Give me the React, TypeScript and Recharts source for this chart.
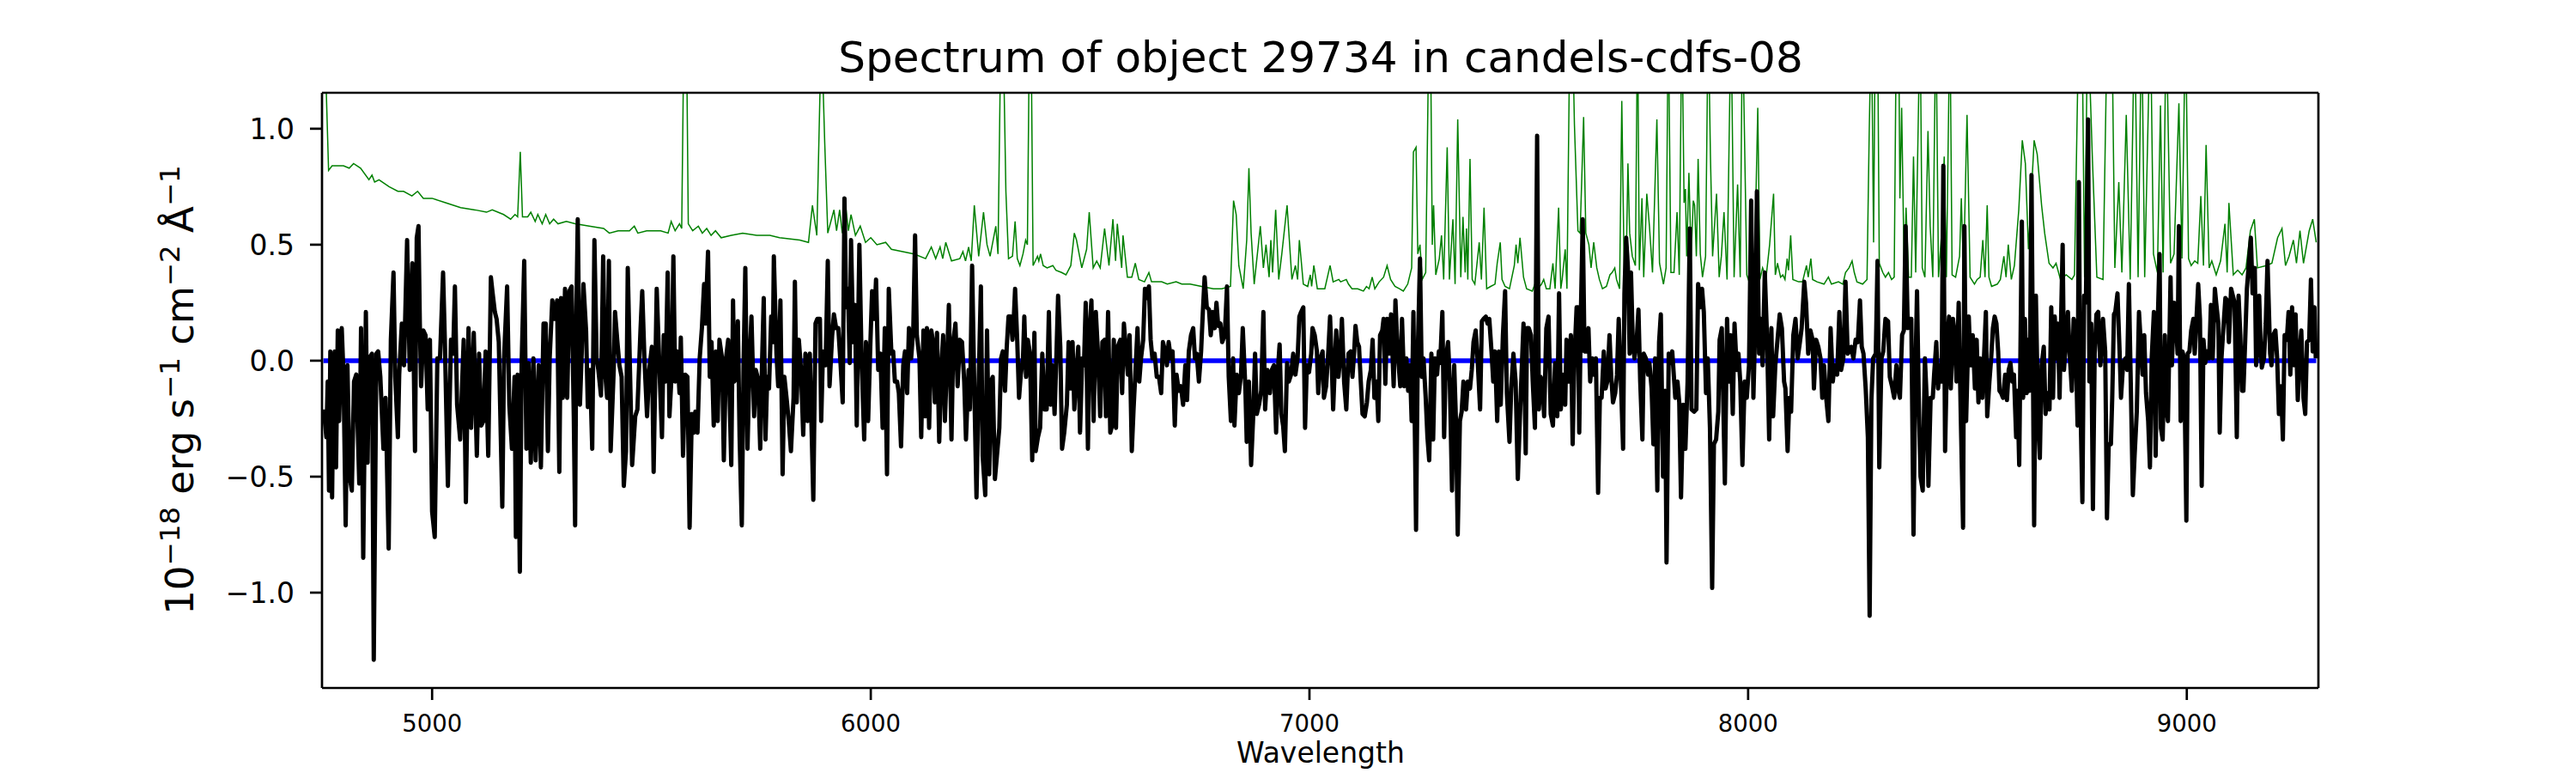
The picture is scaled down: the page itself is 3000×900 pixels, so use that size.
import React from 'react';
import { LineChart, Line, XAxis, YAxis, ReferenceLine } from 'recharts';

// ---------- data ----------
const TITLE = 'Spectrum of object 29734 in candels-cdfs-08';
const X_LABEL = 'Wavelength';
const X_TICKS = [5000, 6000, 7000, 8000, 9000];
const Y_TICKS = [-1, -0.5, 0, 0.5, 1];
const Y_TICK_LABELS = ['−1.0', '−0.5', '0.0', '0.5', '1.0'];
const X_DOMAIN: [number, number] = [4749, 9300];
const Y_DOMAIN: [number, number] = [-1.411, 1.155];

// zero-level model (blue)
const MODEL: [number, number][] = [[4752, 0], [9295, 0]];

// noise / error spectrum (green)
const ERROR: [number, number][] = [
  [4752, 1.6], [4764, 0.82], [4772, 0.84], [4785, 0.84], [4798, 0.84], [4811, 0.83], [4821, 0.85], [4837, 0.83],
  [4856, 0.78], [4863, 0.8], [4869, 0.77], [4879, 0.78], [4902, 0.75], [4922, 0.73], [4935, 0.73], [4954, 0.71],
  [4967, 0.73], [4980, 0.7], [5000, 0.7], [5032, 0.68], [5065, 0.66], [5098, 0.65], [5124, 0.64], [5137, 0.65],
  [5163, 0.63], [5179, 0.61], [5189, 0.63], [5195, 0.62], [5201, 0.9], [5206, 0.62], [5218, 0.62], [5225, 0.64],
  [5235, 0.6], [5241, 0.63], [5251, 0.59], [5259, 0.63], [5268, 0.59], [5277, 0.61], [5287, 0.59], [5306, 0.6],
  [5326, 0.59], [5358, 0.58], [5391, 0.57], [5404, 0.55], [5424, 0.56], [5450, 0.56], [5461, 0.58], [5469, 0.55],
  [5489, 0.56], [5521, 0.56], [5538, 0.55], [5545, 0.6], [5554, 0.56], [5564, 0.59], [5569, 0.57], [5575, 1.6],
  [5579, 1.6], [5584, 0.59], [5594, 0.56], [5607, 0.58], [5616, 0.55], [5626, 0.57], [5636, 0.54], [5646, 0.56],
  [5659, 0.53], [5682, 0.54], [5708, 0.55], [5740, 0.54], [5770, 0.54], [5792, 0.53], [5838, 0.52], [5858, 0.51],
  [5867, 0.67], [5877, 0.54], [5887, 1.4], [5891, 1.2], [5895, 0.94], [5902, 0.55], [5916, 0.65], [5922, 0.56],
  [5929, 0.65], [5935, 0.55], [5942, 0.68], [5949, 0.56], [5955, 0.63], [5965, 0.54], [5976, 0.58], [5988, 0.51],
  [6000, 0.53], [6014, 0.5], [6034, 0.51], [6047, 0.48], [6073, 0.47], [6099, 0.46], [6125, 0.44], [6138, 0.49],
  [6148, 0.44], [6158, 0.49], [6164, 0.44], [6171, 0.51], [6184, 0.43], [6203, 0.44], [6210, 0.47], [6216, 0.43],
  [6223, 0.49], [6229, 0.43], [6236, 0.67], [6246, 0.45], [6257, 0.64], [6265, 0.5], [6272, 0.45], [6285, 0.58],
  [6290, 0.46], [6297, 1.5], [6301, 1.5], [6308, 0.73], [6314, 0.44], [6323, 0.45], [6329, 0.6], [6334, 0.44],
  [6340, 0.41], [6347, 0.46], [6353, 0.52], [6357, 0.5], [6362, 1.5], [6366, 1.3], [6370, 0.41], [6380, 0.45],
  [6383, 0.43], [6387, 0.46], [6393, 0.41], [6402, 0.4], [6415, 0.41], [6422, 0.39], [6435, 0.38], [6445, 0.37],
  [6456, 0.41], [6464, 0.55], [6469, 0.52], [6481, 0.4], [6492, 0.48], [6498, 0.64], [6507, 0.4], [6515, 0.43],
  [6523, 0.4], [6533, 0.57], [6543, 0.41], [6552, 0.61], [6558, 0.43], [6562, 0.59], [6572, 0.4], [6575, 0.54],
  [6585, 0.36], [6595, 0.36], [6603, 0.42], [6611, 0.35], [6624, 0.34], [6634, 0.38], [6640, 0.34], [6663, 0.34],
  [6676, 0.33], [6696, 0.34], [6709, 0.33], [6728, 0.33], [6754, 0.32], [6781, 0.31], [6800, 0.31], [6820, 0.32],
  [6827, 0.69], [6833, 0.63], [6839, 0.41], [6849, 0.31], [6857, 0.52], [6862, 0.83], [6867, 0.55], [6874, 0.33],
  [6888, 0.58], [6895, 0.4], [6901, 0.5], [6908, 0.36], [6912, 0.52], [6916, 0.38], [6923, 0.65], [6930, 0.35],
  [6937, 0.46], [6949, 0.67], [6960, 0.35], [6968, 0.41], [6973, 0.35], [6977, 0.52], [6986, 0.33], [6996, 0.32],
  [7002, 0.37], [7005, 0.32], [7010, 0.41], [7018, 0.31], [7035, 0.31], [7047, 0.41], [7054, 0.34], [7067, 0.35],
  [7071, 0.34], [7084, 0.35], [7089, 0.33], [7097, 0.31], [7110, 0.31], [7123, 0.3], [7130, 0.32], [7136, 0.31],
  [7143, 0.36], [7149, 0.31], [7159, 0.34], [7169, 0.36], [7177, 0.41], [7185, 0.35], [7195, 0.32], [7205, 0.31],
  [7214, 0.3], [7224, 0.33], [7233, 0.4], [7237, 0.9], [7243, 0.92], [7247, 0.46], [7252, 0.5], [7257, 0.35],
  [7265, 0.38], [7272, 1.4], [7276, 1.4], [7280, 0.5], [7283, 0.67], [7288, 0.37], [7296, 0.44], [7301, 0.54],
  [7306, 0.35], [7314, 0.92], [7319, 0.35], [7323, 0.48], [7327, 0.61], [7332, 0.33], [7338, 1.04], [7345, 0.36],
  [7350, 0.62], [7355, 0.38], [7358, 0.57], [7361, 0.35], [7366, 0.87], [7371, 0.35], [7377, 0.33], [7387, 0.51],
  [7392, 0.35], [7398, 0.66], [7404, 0.31], [7413, 0.32], [7423, 0.33], [7428, 0.42], [7435, 0.51], [7439, 0.35],
  [7446, 0.32], [7456, 0.31], [7467, 0.41], [7471, 0.5], [7475, 0.42], [7480, 0.53], [7488, 0.36], [7495, 0.31],
  [7508, 0.3], [7516, 0.34], [7521, 0.31], [7529, 0.33], [7534, 0.35], [7540, 0.31], [7548, 0.31], [7555, 0.42],
  [7560, 0.31], [7568, 0.66], [7573, 0.31], [7576, 0.35], [7583, 0.48], [7587, 0.31], [7594, 1.5], [7599, 1.5],
  [7604, 1.02], [7612, 0.56], [7617, 0.55], [7625, 1.05], [7630, 0.55], [7637, 0.5], [7642, 0.4], [7648, 0.51],
  [7655, 0.4], [7661, 0.35], [7668, 0.31], [7677, 0.32], [7685, 0.37], [7690, 0.38], [7696, 0.4], [7700, 0.35],
  [7707, 0.31], [7712, 1.12], [7718, 0.31], [7723, 0.51], [7726, 0.85], [7730, 0.55], [7736, 0.45], [7743, 0.41],
  [7748, 1.5], [7752, 0.39], [7758, 0.7], [7762, 0.36], [7769, 0.72], [7775, 0.58], [7782, 0.38], [7792, 1.04],
  [7798, 0.42], [7807, 0.33], [7813, 0.4], [7818, 1.5], [7824, 0.38], [7831, 0.38], [7838, 0.64], [7843, 0.37],
  [7849, 1.5], [7854, 0.68], [7857, 0.74], [7860, 0.45], [7865, 0.81], [7870, 0.45], [7875, 0.69], [7878, 0.67],
  [7882, 0.45], [7886, 0.87], [7891, 0.46], [7896, 0.36], [7903, 0.45], [7909, 1.5], [7914, 0.89], [7919, 0.45],
  [7928, 0.72], [7934, 0.36], [7939, 0.45], [7945, 0.64], [7952, 0.35], [7961, 1.5], [7968, 0.36], [7976, 0.76],
  [7982, 0.36], [7987, 1.5], [7997, 0.37], [8004, 0.33], [8014, 0.36], [8022, 1.09], [8027, 0.35], [8033, 0.4],
  [8041, 0.36], [8049, 0.5], [8058, 0.72], [8062, 0.37], [8067, 0.42], [8074, 0.36], [8079, 0.37], [8084, 0.35],
  [8089, 0.44], [8092, 0.39], [8097, 0.54], [8102, 0.35], [8115, 0.34], [8124, 0.34], [8133, 0.41], [8137, 0.36],
  [8143, 0.44], [8147, 0.35], [8157, 0.34], [8173, 0.33], [8183, 0.36], [8190, 0.33], [8206, 0.34], [8216, 0.33],
  [8222, 0.38], [8230, 0.4], [8237, 0.43], [8242, 0.38], [8248, 0.34], [8261, 0.33], [8271, 0.35], [8276, 0.98],
  [8281, 1.5], [8286, 0.51], [8290, 1.5], [8295, 1.5], [8299, 0.42], [8307, 0.38], [8313, 0.36], [8320, 0.38],
  [8327, 0.35], [8333, 0.36], [8338, 1.5], [8343, 1.5], [8346, 0.7], [8350, 1.09], [8356, 0.36], [8360, 0.66],
  [8366, 0.36], [8372, 0.36], [8377, 0.88], [8382, 0.38], [8392, 1.5], [8397, 0.4], [8403, 0.36], [8410, 0.99],
  [8415, 0.58], [8421, 0.36], [8428, 1.5], [8434, 0.36], [8441, 0.55], [8447, 0.88], [8452, 0.36], [8460, 1.5],
  [8465, 0.37], [8473, 0.36], [8482, 0.45], [8486, 0.7], [8491, 0.38], [8499, 1.06], [8506, 0.36], [8516, 0.33],
  [8522, 0.35], [8529, 0.36], [8535, 0.52], [8540, 0.36], [8545, 0.67], [8549, 0.36], [8555, 0.32], [8568, 0.33],
  [8575, 0.35], [8583, 0.45], [8588, 0.36], [8593, 0.5], [8600, 0.35], [8607, 0.41], [8617, 0.65], [8625, 0.95],
  [8632, 0.85], [8639, 0.48], [8652, 0.95], [8659, 0.89], [8669, 0.67], [8676, 0.55], [8686, 0.42], [8695, 0.4],
  [8702, 0.42], [8712, 0.35], [8725, 0.37], [8738, 0.35], [8744, 0.37], [8754, 1.5], [8761, 1.5], [8767, 0.36],
  [8774, 1.5], [8785, 0.86], [8795, 0.36], [8809, 0.35], [8819, 1.5], [8829, 1.5], [8836, 0.4], [8845, 0.77],
  [8852, 0.38], [8862, 1.06], [8871, 0.35], [8881, 1.5], [8889, 0.36], [8897, 1.5], [8904, 0.36], [8917, 1.5],
  [8924, 0.46], [8933, 0.38], [8940, 1.1], [8946, 0.38], [8953, 1.5], [8963, 0.42], [8971, 0.46], [8982, 1.11],
  [8989, 0.44], [8997, 1.5], [9004, 0.44], [9010, 0.41], [9018, 0.43], [9025, 0.42], [9032, 0.71], [9038, 0.41],
  [9044, 0.93], [9051, 0.4], [9057, 0.43], [9067, 0.37], [9077, 0.43], [9087, 0.59], [9092, 0.38], [9096, 0.68],
  [9106, 0.37], [9116, 0.39], [9126, 0.37], [9135, 0.4], [9145, 0.56], [9154, 0.61], [9161, 0.4], [9181, 0.41],
  [9194, 0.42], [9207, 0.53], [9217, 0.57], [9225, 0.41], [9233, 0.45], [9243, 0.52], [9250, 0.42], [9258, 0.56],
  [9266, 0.42], [9279, 0.56], [9287, 0.61], [9295, 0.51],
];

// observed flux (black)
const FLUX: [number, number][] = [
  [4753, -0.21], [4759, -0.33], [4762, -0.09], [4765, -0.56], [4768, 0.04], [4772, -0.59], [4775, -0.09], [4778, 0.04],
  [4781, -0.46], [4785, 0.13], [4788, -0.26], [4794, 0.14], [4798, -0.06], [4803, -0.71], [4807, -0.02], [4812, -0.5],
  [4817, -0.56], [4822, -0.09], [4827, -0.06], [4834, -0.53], [4838, 0.14], [4843, -0.85], [4849, 0.21], [4853, -0.44],
  [4856, 0.01], [4863, 0.03], [4867, -1.29], [4873, 0.03], [4877, 0.04], [4882, -0.07], [4889, -0.38], [4894, -0.16],
  [4901, -0.81], [4906, 0.09], [4912, 0.38], [4916, -0.07], [4922, -0.33], [4925, -0.06], [4931, 0.16], [4936, -0.02],
  [4943, 0.52], [4949, -0.04], [4955, 0.42], [4961, -0.39], [4965, 0.53], [4969, 0.58], [4972, 0.16], [4975, -0.11],
  [4980, 0.13], [4985, 0.11], [4990, -0.21], [4995, 0.09], [5000, -0.65], [5006, -0.76], [5012, 0.01], [5018, 0.01],
  [5025, 0.38], [5029, 0.09], [5036, -0.54], [5043, 0.09], [5048, 0.03], [5052, 0.32], [5057, -0.19], [5064, -0.34],
  [5072, 0.09], [5077, -0.61], [5083, 0.14], [5089, -0.29], [5095, 0.12], [5102, -0.41], [5107, 0.03], [5112, -0.28],
  [5117, -0.26], [5122, 0.04], [5128, -0.41], [5134, 0.36], [5138, 0.29], [5143, 0.21], [5147, 0.18], [5152, 0.08],
  [5160, -0.63], [5164, 0.01], [5171, 0.32], [5176, -0.19], [5182, -0.38], [5188, -0.07], [5191, -0.76], [5195, -0.06],
  [5200, -0.91], [5204, -0.02], [5210, 0.43], [5215, -0.38], [5220, -0.01], [5225, -0.44], [5231, 0.01], [5236, -0.43],
  [5243, -0.02], [5248, -0.46], [5254, 0.16], [5259, 0.16], [5264, -0.39], [5268, 0.01], [5274, 0.26], [5280, 0.18],
  [5285, 0.26], [5290, -0.48], [5294, 0.27], [5298, -0.16], [5303, 0.31], [5308, -0.16], [5313, 0.3], [5318, 0.32],
  [5323, -0.24], [5326, -0.71], [5329, 0.23], [5332, 0.61], [5337, -0.19], [5341, 0.03], [5345, 0.33], [5351, 0.13],
  [5355, -0.2], [5360, -0.04], [5365, -0.38], [5370, 0.52], [5375, 0.01], [5379, -0.04], [5385, -0.15], [5390, 0.45],
  [5394, -0.04], [5399, -0.16], [5403, 0.43], [5407, -0.39], [5414, -0.04], [5417, 0.21], [5422, 0.09], [5427, -0.02],
  [5432, -0.07], [5437, -0.54], [5442, -0.39], [5446, 0.4], [5452, -0.12], [5456, -0.45], [5463, -0.24], [5468, -0.21],
  [5475, 0.13], [5479, 0.3], [5484, 0.01], [5490, -0.24], [5495, -0.04], [5501, 0.06], [5505, -0.48], [5512, 0.31],
  [5518, -0.02], [5524, -0.33], [5528, 0.11], [5532, -0.09], [5537, 0.38], [5541, -0.24], [5546, -0.06], [5550, 0.45],
  [5554, -0.09], [5559, 0.04], [5564, -0.14], [5567, 0.1], [5572, -0.41], [5577, -0.06], [5582, -0.07], [5587, -0.72],
  [5592, -0.23], [5597, -0.31], [5600, -0.22], [5605, -0.31], [5610, 0.01], [5615, 0.14], [5620, 0.33], [5623, 0.16],
  [5629, 0.47], [5633, -0.07], [5637, 0.08], [5642, -0.28], [5647, 0.04], [5651, -0.26], [5655, 0.09], [5661, 0.01],
  [5665, -0.43], [5670, 0.01], [5675, 0.09], [5682, -0.45], [5686, 0.26], [5689, -0.09], [5693, -0.07], [5697, 0.17],
  [5701, -0.33], [5706, -0.71], [5710, -0.02], [5714, 0.4], [5719, -0.38], [5724, 0.01], [5728, 0.19], [5734, -0.24],
  [5738, -0.04], [5743, -0.08], [5748, -0.38], [5752, -0.02], [5756, 0.27], [5760, -0.34], [5764, -0.07], [5768, -0.12],
  [5773, 0.19], [5777, 0.08], [5779, 0.45], [5785, 0.03], [5789, -0.11], [5794, 0.26], [5799, -0.49], [5803, -0.07],
  [5809, -0.18], [5813, -0.26], [5818, -0.39], [5824, -0.16], [5827, 0.34], [5831, -0.18], [5836, 0.09], [5841, -0.04],
  [5846, -0.32], [5851, 0.03], [5856, -0.26], [5861, 0.03], [5869, -0.6], [5874, 0.16], [5878, 0.18], [5884, 0.18],
  [5887, -0.26], [5891, 0.04], [5897, -0.02], [5902, 0.43], [5906, -0.11], [5912, 0.11], [5916, 0.2], [5921, 0.14],
  [5926, 0.14], [5931, -0.01], [5936, -0.18], [5940, 0.7], [5944, 0.23], [5948, 0.31], [5952, -0.01], [5955, 0.52],
  [5960, 0.08], [5964, 0.24], [5968, -0.28], [5974, 0.5], [5979, 0.01], [5985, -0.34], [5989, 0.08], [5994, -0.26],
  [5999, 0.07], [6003, 0.3], [6008, 0.18], [6012, 0.35], [6017, -0.04], [6022, 0.03], [6027, -0.29], [6032, 0.14],
  [6037, -0.49], [6041, 0.31], [6047, 0.03], [6051, 0.04], [6055, -0.09], [6060, -0.09], [6064, -0.14], [6069, -0.37],
  [6074, -0.02], [6078, 0.04], [6083, -0.14], [6087, 0.14], [6092, 0.01], [6097, 0.14], [6101, 0.54], [6105, 0.11],
  [6111, 0.01], [6115, -0.33], [6120, 0.13], [6124, -0.24], [6128, 0.14], [6133, -0.29], [6138, 0.13], [6142, 0.08],
  [6146, -0.18], [6151, 0.12], [6156, -0.35], [6161, -0.02], [6165, 0.11], [6169, -0.26], [6174, 0.01], [6178, 0.24],
  [6184, -0.34], [6188, 0.08], [6193, 0.16], [6198, -0.11], [6203, 0.09], [6208, 0.08], [6213, -0.09], [6217, -0.34],
  [6223, -0.04], [6226, -0.21], [6231, 0.41], [6236, -0.12], [6241, -0.59], [6246, -0.09], [6251, 0.32], [6255, -0.41],
  [6261, -0.58], [6265, 0.13], [6270, -0.49], [6274, -0.09], [6278, -0.07], [6283, -0.51], [6293, -0.29], [6297, 0.01],
  [6301, 0.04], [6306, -0.13], [6310, 0.06], [6314, 0.19], [6319, 0.19], [6323, 0.09], [6325, 0.14], [6329, 0.31],
  [6334, 0.08], [6338, -0.16], [6342, -0.06], [6347, 0.01], [6350, 0.19], [6354, -0.07], [6358, 0.09], [6363, 0.03],
  [6368, -0.43], [6373, 0.12], [6376, -0.39], [6381, -0.33], [6386, -0.29], [6391, 0.03], [6396, -0.21], [6401, -0.21],
  [6406, 0.21], [6410, -0.19], [6414, -0.02], [6419, -0.23], [6423, 0.01], [6427, 0.28], [6432, 0.06], [6436, -0.38],
  [6441, -0.31], [6447, -0.19], [6451, 0.08], [6456, -0.12], [6460, 0.08], [6464, -0.21], [6469, -0.04], [6473, 0.06],
  [6477, -0.31], [6482, 0.01], [6486, -0.02], [6490, 0.25], [6495, -0.38], [6499, 0.14], [6503, 0.26], [6508, -0.26],
  [6513, 0.21], [6518, 0.03], [6523, -0.24], [6528, 0.08], [6533, 0.09], [6536, -0.24], [6541, 0.21], [6546, -0.31],
  [6550, -0.28], [6554, 0.09], [6559, -0.29], [6563, 0.06], [6569, 0.09], [6573, -0.14], [6577, 0.16], [6582, 0.04],
  [6586, -0.06], [6590, 0.11], [6595, -0.39], [6599, -0.21], [6604, -0.02], [6608, 0.14], [6612, -0.09], [6616, 0.01],
  [6621, 0.09], [6625, 0.31], [6629, 0.27], [6634, 0.32], [6638, 0.09], [6642, 0.01], [6647, 0.03], [6652, -0.07],
  [6657, -0.07], [6662, -0.14], [6666, 0.08], [6671, 0.04], [6675, -0.02], [6679, 0.08], [6684, 0.01], [6688, 0.04],
  [6693, -0.28], [6697, -0.06], [6702, -0.13], [6707, -0.11], [6712, -0.19], [6717, -0.02], [6721, -0.17], [6725, 0.04],
  [6730, 0.11], [6735, 0.14], [6739, 0.01], [6743, 0.03], [6748, -0.09], [6753, 0.04], [6757, 0.21], [6761, 0.36],
  [6766, 0.23], [6771, 0.22], [6775, 0.11], [6779, 0.21], [6784, 0.14], [6788, 0.25], [6792, 0.15], [6797, 0.16],
  [6801, 0.08], [6807, 0.11], [6812, 0.32], [6816, -0.07], [6821, -0.26], [6826, 0.01], [6829, -0.28], [6834, -0.06],
  [6839, -0.14], [6844, -0.06], [6848, 0.14], [6854, -0.12], [6857, -0.35], [6862, -0.09], [6867, -0.45], [6872, -0.23],
  [6876, 0.03], [6880, -0.23], [6885, -0.19], [6890, -0.13], [6895, 0.21], [6899, -0.21], [6904, -0.04], [6910, -0.14],
  [6914, -0.04], [6919, -0.02], [6924, -0.31], [6928, -0.04], [6932, 0.07], [6936, -0.23], [6940, -0.28], [6944, -0.39],
  [6949, -0.01], [6953, -0.09], [6958, -0.06], [6963, 0.03], [6968, -0.06], [6973, 0.01], [6977, 0.19], [6981, 0.21],
  [6986, 0.23], [6990, -0.29], [6994, -0.02], [6999, -0.05], [7004, 0.03], [7007, 0.14], [7012, 0.11], [7017, 0.04],
  [7020, -0.14], [7025, 0.01], [7030, 0.04], [7033, -0.16], [7038, -0.11], [7043, 0.04], [7047, 0.19], [7051, -0.02],
  [7054, -0.21], [7061, 0.13], [7066, -0.07], [7070, 0.01], [7074, 0.18], [7079, -0.09], [7084, -0.21], [7089, 0.03],
  [7094, 0.04], [7098, -0.07], [7102, 0.04], [7105, 0.15], [7109, 0.08], [7113, 0.06], [7117, -0.09], [7121, -0.23],
  [7126, -0.24], [7131, -0.18], [7135, -0.09], [7140, -0.04], [7144, 0.09], [7148, -0.16], [7153, -0.09], [7157, -0.26],
  [7161, 0.11], [7166, 0.13], [7169, 0.18], [7173, -0.1], [7177, 0.18], [7182, 0.03], [7186, 0.2], [7192, -0.11],
  [7196, 0.26], [7201, 0.04], [7207, -0.11], [7211, 0.18], [7216, -0.11], [7221, 0.01], [7225, -0.13], [7229, -0.02],
  [7233, -0.26], [7237, 0.21], [7243, -0.73], [7247, 0.04], [7252, 0.44], [7256, -0.07], [7260, 0.01], [7265, -0.16],
  [7269, -0.33], [7273, -0.43], [7278, 0.03], [7282, -0.34], [7286, 0.01], [7291, -0.06], [7295, 0.04], [7298, -0.01],
  [7303, 0.21], [7307, -0.33], [7311, 0.01], [7316, 0.08], [7320, -0.09], [7325, -0.56], [7330, -0.02], [7334, -0.26],
  [7338, -0.75], [7343, -0.26], [7347, -0.22], [7351, -0.09], [7357, -0.21], [7361, -0.09], [7366, -0.12], [7370, -0.04],
  [7374, 0.08], [7379, 0.13], [7384, -0.02], [7389, -0.21], [7393, 0.17], [7397, 0.18], [7402, 0.19], [7406, 0.16],
  [7410, 0.18], [7415, 0.04], [7419, -0.09], [7423, 0.04], [7428, -0.26], [7432, 0.04], [7436, -0.19], [7441, 0.11],
  [7446, 0.3], [7450, -0.14], [7456, -0.35], [7460, -0.12], [7465, 0.03], [7470, -0.09], [7475, -0.51], [7480, -0.23],
  [7484, -0.03], [7488, 0.16], [7493, -0.4], [7496, 0.14], [7500, 0.14], [7505, 0.11], [7509, -0.09], [7514, -0.29],
  [7519, 0.97], [7523, -0.21], [7527, -0.07], [7531, -0.09], [7535, -0.24], [7540, 0.14], [7545, 0.19], [7550, -0.23],
  [7555, -0.28], [7560, -0.01], [7565, -0.24], [7569, 0.29], [7573, -0.21], [7578, -0.06], [7583, -0.19], [7586, 0.09],
  [7591, -0.09], [7596, 0.11], [7600, -0.36], [7604, 0.01], [7609, 0.23], [7612, 0.23], [7615, -0.31], [7619, 0.23],
  [7623, 0.61], [7627, 0.04], [7632, 0.04], [7636, 0.14], [7640, -0.09], [7645, 0.01], [7648, -0.06], [7653, 0.01],
  [7658, -0.57], [7662, -0.16], [7666, -0.16], [7671, 0.04], [7675, -0.12], [7679, -0.09], [7684, 0.11], [7688, -0.07],
  [7692, -0.18], [7697, -0.14], [7701, -0.06], [7705, 0.18], [7710, -0.09], [7715, -0.38], [7718, 0.29], [7722, 0.53],
  [7726, 0.4], [7730, 0.03], [7733, 0.38], [7737, 0.09], [7741, 0.01], [7746, 0.09], [7750, 0.22], [7754, -0.09],
  [7759, -0.34], [7762, 0.03], [7767, 0.01], [7772, -0.06], [7775, -0.01], [7780, -0.12], [7784, -0.36], [7788, 0.01],
  [7793, -0.56], [7797, 0.08], [7801, 0.2], [7806, -0.5], [7811, -0.13], [7814, -0.87], [7819, 0.03], [7824, -0.01],
  [7827, 0.04], [7834, -0.16], [7839, -0.09], [7843, -0.18], [7847, -0.59], [7852, -0.19], [7857, -0.38], [7862, -0.09],
  [7867, 0.57], [7871, -0.21], [7877, -0.22], [7882, -0.21], [7886, 0.33], [7891, 0.23], [7895, 0.31], [7899, 0.21],
  [7904, -0.14], [7908, 0.01], [7913, -0.29], [7918, -0.98], [7922, -0.36], [7927, -0.34], [7932, -0.22], [7935, 0.09],
  [7940, 0.14], [7943, -0.14], [7947, -0.53], [7952, 0.18], [7956, -0.09], [7960, 0.11], [7965, -0.23], [7969, 0.16],
  [7974, -0.04], [7978, 0.03], [7982, -0.09], [7987, -0.45], [7992, -0.09], [7997, -0.16], [8002, -0.02], [8007, 0.69],
  [8012, -0.16], [8016, 0.14], [8020, 0.73], [8025, 0.03], [8029, 0.18], [8033, -0.02], [8038, 0.38], [8043, 0.11],
  [8048, -0.34], [8053, 0.14], [8057, -0.24], [8062, -0.02], [8067, 0.09], [8072, 0.2], [8077, 0.14], [8082, -0.09],
  [8085, -0.12], [8090, -0.39], [8094, -0.16], [8098, -0.22], [8103, 0.11], [8108, 0.18], [8113, 0.01], [8118, 0.08],
  [8122, 0.14], [8128, 0.34], [8132, 0.25], [8137, 0.03], [8142, 0.13], [8147, 0.09], [8150, -0.12], [8155, 0.09],
  [8160, 0.06], [8165, 0.01], [8169, -0.16], [8173, -0.02], [8178, -0.16], [8183, -0.26], [8188, 0.14], [8193, -0.09],
  [8197, -0.02], [8203, -0.06], [8208, 0.21], [8212, -0.04], [8217, 0.01], [8222, 0.34], [8227, 0.03], [8231, 0.04],
  [8235, 0.06], [8240, 0.01], [8245, 0.09], [8250, 0.08], [8255, 0.26], [8259, 0.06], [8263, 0.03], [8268, -0.12],
  [8273, -0.33], [8277, -1.1], [8281, -0.17], [8285, 0.01], [8291, 0.03], [8295, 0.43], [8299, -0.46], [8304, 0.01],
  [8308, 0.04], [8313, 0.18], [8319, 0.17], [8323, -0.07], [8328, -0.11], [8333, -0.16], [8338, -0.02], [8342, -0.12],
  [8346, -0.16], [8351, 0.11], [8355, 0.13], [8359, 0.58], [8364, 0.14], [8368, 0.18], [8372, 0.18], [8377, -0.75],
  [8381, -0.09], [8385, 0.3], [8389, -0.16], [8393, -0.5], [8398, -0.56], [8403, 0.01], [8407, -0.16], [8411, -0.54],
  [8416, -0.16], [8421, -0.16], [8424, -0.06], [8429, 0.08], [8433, -0.12], [8437, -0.02], [8441, -0.09], [8445, 0.84],
  [8449, -0.39], [8454, 0.09], [8458, 0.19], [8462, -0.12], [8467, 0.18], [8471, 0.11], [8475, -0.09], [8480, 0.25],
  [8485, -0.26], [8490, -0.72], [8493, 0.58], [8497, -0.26], [8503, 0.19], [8507, -0.02], [8512, 0.11], [8517, -0.12],
  [8521, 0.09], [8525, -0.18], [8529, 0.01], [8534, -0.16], [8537, -0.02], [8542, 0.21], [8545, -0.24], [8550, -0.09],
  [8554, 0.01], [8558, 0.14], [8562, 0.19], [8566, 0.16], [8570, 0.04], [8573, -0.13], [8577, -0.14], [8581, -0.16],
  [8586, -0.06], [8590, -0.17], [8594, -0.04], [8598, -0.01], [8602, -0.09], [8606, -0.06], [8611, -0.33], [8614, -0.13],
  [8618, -0.45], [8624, 0.6], [8627, -0.16], [8631, 0.18], [8635, -0.14], [8639, 0.09], [8642, -0.13], [8646, 0.8],
  [8652, -0.71], [8656, 0.28], [8661, -0.24], [8665, -0.42], [8669, -0.02], [8674, 0.06], [8678, -0.23], [8682, -0.14],
  [8687, -0.21], [8691, 0.23], [8695, -0.16], [8699, 0.19], [8703, 0.01], [8706, 0.16], [8710, -0.16], [8713, 0.14],
  [8717, 0.5], [8720, -0.04], [8725, 0.09], [8729, 0.21], [8733, 0.03], [8738, -0.13], [8742, 0.18], [8746, 0.14],
  [8751, -0.28], [8754, 0.77], [8757, -0.13], [8762, -0.61], [8766, 0.28], [8770, 0.25], [8775, 1.04], [8778, -0.09],
  [8782, 0.16], [8786, -0.64], [8790, 0.03], [8794, 0.2], [8798, 0.21], [8803, -0.02], [8806, 0.08], [8809, 0.18],
  [8814, 0.04], [8818, -0.68], [8822, -0.36], [8827, -0.36], [8830, -0.16], [8834, 0.2], [8837, 0.21], [8842, 0.29],
  [8847, 0.03], [8850, -0.16], [8855, -0.01], [8860, 0.01], [8864, -0.04], [8868, 0.33], [8873, -0.17], [8877, -0.58],
  [8881, -0.41], [8886, -0.22], [8891, 0.21], [8895, 0.08], [8899, -0.06], [8903, 0.11], [8907, -0.14], [8912, -0.26],
  [8916, -0.46], [8920, 0.01], [8925, 0.21], [8929, -0.41], [8933, 0.11], [8938, 0.46], [8941, -0.29], [8945, -0.34],
  [8950, 0.11], [8953, -0.19], [8957, -0.26], [8963, 0.36], [8966, -0.02], [8971, 0.25], [8976, 0.14], [8979, 0.03],
  [8982, 0.58], [8986, -0.26], [8990, 0.04], [8994, 0.01], [8999, -0.69], [9002, 0.03], [9006, 0.04], [9010, 0.13],
  [9015, 0.18], [9018, 0.03], [9021, 0.14], [9026, 0.33], [9030, 0.18], [9034, -0.54], [9038, 0.09], [9042, -0.01],
  [9046, 0.04], [9051, 0.01], [9055, 0.24], [9059, 0.01], [9064, 0.31], [9067, 0.25], [9072, 0.16], [9075, -0.31],
  [9079, 0.01], [9083, 0.13], [9088, 0.27], [9092, 0.26], [9096, 0.08], [9101, 0.31], [9105, 0.28], [9109, 0.25],
  [9114, -0.33], [9118, 0.28], [9122, 0.11], [9126, -0.13], [9129, -0.13], [9133, 0.08], [9137, 0.31], [9142, 0.43],
  [9146, 0.53], [9150, 0.29], [9155, 0.4], [9158, -0.02], [9161, 0.04], [9165, 0.28], [9168, 0.08], [9171, -0.03],
  [9176, 0.01], [9180, 0.16], [9184, 0.43], [9190, 0.03], [9193, -0.02], [9197, 0.11], [9202, 0.13], [9206, 0.01],
  [9210, -0.23], [9215, -0.11], [9219, -0.34], [9223, 0.11], [9228, 0.09], [9232, 0.21], [9236, -0.06], [9240, 0.23],
  [9244, -0.02], [9248, 0.2], [9253, -0.17], [9257, 0.03], [9261, 0.13], [9266, -0.16], [9270, -0.23], [9274, 0.08],
  [9279, 0.09], [9283, 0.35], [9287, 0.04], [9291, 0.23], [9294, 0.01],
];

const toRows = (pts: [number, number][]) => pts.map(([w, v]) => ({ w, v }));
const modelRows = toRows(MODEL);
const errorRows = toRows(ERROR);
const fluxRows = toRows(FLUX);

const FONT = 'DejaVu Sans';
const AXIS_W = 2.7;

const yFmt = (v: number) => {
  const i = Y_TICKS.indexOf(v);
  return i >= 0 ? Y_TICK_LABELS[i] : String(v);
};

export default function App() {
  return (
    <div style={{ position: 'absolute', left: 0, top: 0, width: 3000, height: 900, background: '#fff' }}>
      <LineChart width={3000} height={900} margin={{ top: 108, right: 300, bottom: 0, left: 0 }}>
        <XAxis
          type="number"
          dataKey="w"
          domain={X_DOMAIN}
          allowDataOverflow
          ticks={X_TICKS}
          interval={0}
          height={99}
          tickSize={14}
          tickMargin={17.5}
          axisLine={{ stroke: '#000', strokeWidth: AXIS_W }}
          tickLine={{ stroke: '#000', strokeWidth: AXIS_W }}
          tick={{ fontSize: 27.5, fontFamily: FONT, fill: '#000' }}
        />
        <YAxis
          type="number"
          domain={Y_DOMAIN}
          allowDataOverflow
          ticks={Y_TICKS}
          interval={0}
          width={375}
          tickSize={14}
          tickMargin={18}
          tickFormatter={yFmt}
          axisLine={{ stroke: '#000', strokeWidth: AXIS_W }}
          tickLine={{ stroke: '#000', strokeWidth: AXIS_W }}
          tick={{ fontSize: 33, fontFamily: FONT, fill: '#000' }}
        />
        <Line data={modelRows} dataKey="v" type="linear" stroke="#0000ff" strokeWidth={5.5} dot={false} activeDot={false} isAnimationActive={false} />
        <Line data={errorRows} dataKey="v" type="linear" stroke="#008000" strokeWidth={1.5} dot={false} activeDot={false} isAnimationActive={false} />
        <Line data={fluxRows} dataKey="v" type="linear" stroke="#000000" strokeWidth={5} strokeLinejoin="round" dot={false} activeDot={false} isAnimationActive={false} />
        <ReferenceLine y={Y_DOMAIN[1]} stroke="#000" strokeWidth={AXIS_W} ifOverflow="visible" />
        <ReferenceLine x={X_DOMAIN[1]} stroke="#000" strokeWidth={AXIS_W} ifOverflow="visible" />
      </LineChart>
      <svg width={3000} height={900} style={{ position: 'absolute', left: 0, top: 0, pointerEvents: 'none' }}>
        <text x={1538} y={84} textAnchor="middle" fontSize={50} fontFamily={FONT} fill="#000">{TITLE}</text>
        <text x={1538} y={888} textAnchor="middle" fontSize={33} fontFamily={FONT} fill="#000">{X_LABEL}</text>
        <text transform="translate(225,454) rotate(-90)" textAnchor="middle" fontSize={45} fontFamily={FONT} fill="#000" style={{ whiteSpace: 'pre' }}>
          <tspan>10</tspan>
          <tspan dy={-16} fontSize={32.5}>−18</tspan>
          <tspan dy={16}> erg s</tspan>
          <tspan dy={-16} fontSize={32.5}>−1</tspan>
          <tspan dy={16}> cm</tspan>
          <tspan dy={-16} fontSize={32.5}>−2</tspan>
          <tspan dy={16}> Å</tspan>
          <tspan dy={-16} fontSize={32.5}>−1</tspan>
        </text>
      </svg>
    </div>
  );
}
